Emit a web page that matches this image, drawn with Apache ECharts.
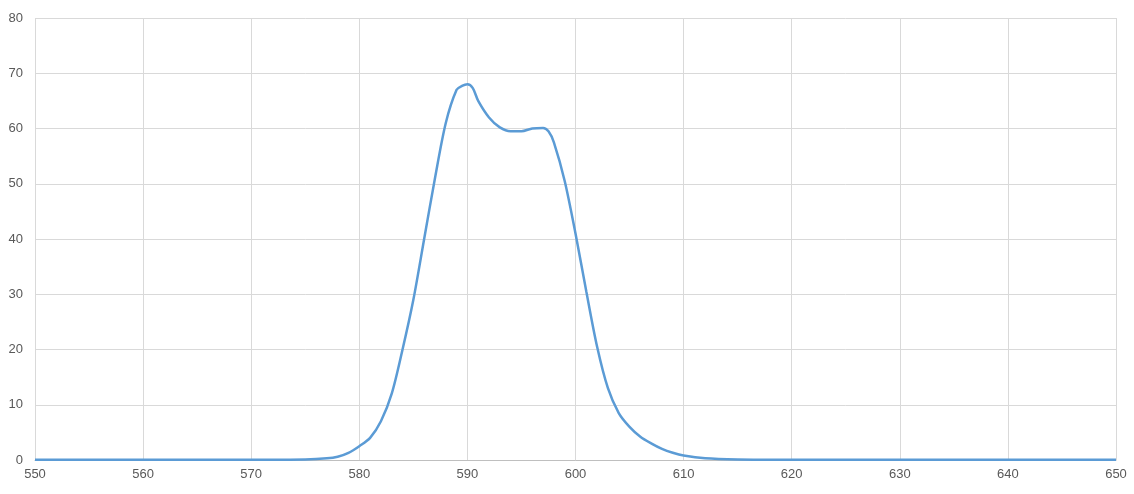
<!DOCTYPE html>
<html><head><meta charset="utf-8">
<script src="https://cdn.jsdelivr.net/npm/echarts@6/dist/echarts.min.js"></script>
<style>html,body{margin:0;background:#fff}#c{width:1134px;height:494px}</style>
</head><body><div id="c"></div>
<script>
const wavelengths = [550,560,570,575,577,578,579,580,581,582,583,584,585,586,587,588,589,589.5,590,590.5,591,592,593,594,595,596,597,597.5,598,599,600,601,602,603,604,605,606,607,608,609,610,612,615,620,630,640,650];
const values = [0.05,0.05,0.05,0.1,0.3,0.6,1.3,2.5,4,7,12,20,29,40,51,61,67,67.7,68,67.3,65,62,60.2,59.5,59.5,60,60.1,59.5,57.5,50.5,41,30.5,20.5,13,8.5,6,4.2,3,2,1.3,0.8,0.3,0.1,0.05,0.05,0.05,0.05];
const chart = echarts.init(document.getElementById('c'));
chart.setOption({
  animation:false,
  grid:{left:35,right:18,top:18,bottom:34},
  xAxis:{type:'value',min:550,max:650,interval:10,
    axisLine:{lineStyle:{color:'#bfbfbf'}},axisTick:{show:false},
    splitLine:{show:true,lineStyle:{color:'#d9d9d9',width:1}},
    axisLabel:{color:'#595959',fontSize:13,fontFamily:'Liberation Sans',margin:8}},
  yAxis:{type:'value',min:0,max:80,interval:10,
    axisLine:{show:false},axisTick:{show:false},
    splitLine:{lineStyle:{color:'#d9d9d9',width:1}},
    axisLabel:{color:'#595959',fontSize:13,fontFamily:'Liberation Sans',margin:12}},
  series:[{type:'line',data:wavelengths.map((w,i)=>[w,values[i]]),smooth:0.3,showSymbol:false,
    lineStyle:{color:'#5b9bd5',width:2.5}}]
});
</script></body></html>
